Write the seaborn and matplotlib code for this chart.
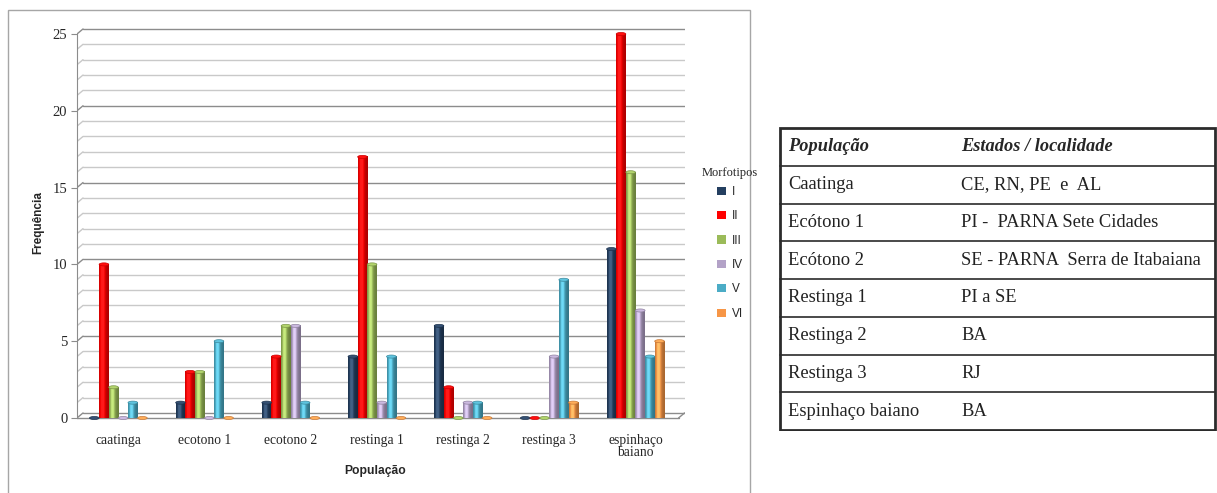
import numpy as np
import pandas as pd
import matplotlib
matplotlib.use("Agg")
import matplotlib.pyplot as plt
from matplotlib.patches import Rectangle, Ellipse, Patch
from matplotlib.colors import to_rgb
import seaborn as sns

# ---- data -------------------------------------------------------------
populacoes = ["caatinga", "ecotono 1", "ecotono 2", "restinga 1",
              "restinga 2", "restinga 3", "espinhaço\nbaiano"]
morfotipos = ["I", "II", "III", "IV", "V", "VI"]
freq_I   = [0, 1, 1, 4, 6, 0, 11]
freq_II  = [10, 3, 4, 17, 2, 0, 25]
freq_III = [2, 3, 6, 10, 0, 0, 16]
freq_IV  = [0, 0, 6, 1, 1, 4, 7]
freq_V   = [1, 5, 1, 4, 1, 9, 4]
freq_VI  = [0, 0, 0, 0, 0, 1, 5]
cores = ["#243F60", "#FF0000", "#9BBB59", "#B3A2C7", "#4BACC6", "#F79646"]
y_ticks = [0, 5, 10, 15, 20, 25]

tabela_cab = ["População", "Estados / localidade"]
tabela_pop = ["Caatinga", "Ecótono 1", "Ecótono 2", "Restinga 1",
              "Restinga 2", "Restinga 3", "Espinhaço baiano"]
tabela_loc = ["CE, RN, PE  e  AL", "PI -  PARNA Sete Cidades",
              "SE - PARNA  Serra de Itabaiana", "PI a SE", "BA", "RJ", "BA"]

serie = [freq_I, freq_II, freq_III, freq_IV, freq_V, freq_VI]
df = pd.DataFrame({
    "População": np.tile(populacoes, len(morfotipos)),
    "Morfotipo": np.repeat(morfotipos, len(populacoes)),
    "Frequência": np.concatenate(serie),
})

# ---- figure -----------------------------------------------------------
W, H = 1217, 493
fig = plt.figure(figsize=(W / 100, H / 100), dpi=100)
sns.set_style("white")
SERIF = "Liberation Serif"
SANS = "Liberation Sans"

# chart frame
fig.patches.append(Rectangle((8 / W, -0.02), (750 - 8) / W, 1 - 10 / H + 0.02,
                             transform=fig.transFigure, fill=False,
                             edgecolor="#A6A6A6", lw=1.0, zorder=0))

ymin, ymax = -0.2, 25.6
px_per_unit = (418 - 34) / 25
ax_bottom_px = 418 + (0 - ymin) * px_per_unit
ax_top_px = 34 - (ymax - 25) * px_per_unit
ax_h_px = ax_bottom_px - ax_top_px
ax = fig.add_axes([77 / W, 1 - ax_bottom_px / H, (685 - 77) / W, ax_h_px / H])

sns.barplot(data=df, x="População", y="Frequência", hue="Morfotipo",
            palette=cores, width=0.67, saturation=1, legend=False,
            ax=ax, zorder=3, linewidth=0)

x0, x1 = -0.48, 6.5           # front floor extent
dx, dy = 0.07, 0.33           # depth offset of the back wall

# back wall grid with slanted side wall
for v in range(0, 26):
    col = "#8C8C8C" if v % 5 == 0 else "#C9C9C9"
    ax.plot([x0 + dx, x1 + dx], [v + dy, v + dy], color=col, lw=1.0, zorder=1)
    ax.plot([x0, x0 + dx], [v, v + dy], color=col, lw=1.0, zorder=1)
# floor front edge
ax.plot([x0, x1], [0, 0], color="#8C8C8C", lw=1.0, zorder=1)
ax.plot([x1, x1 + dx], [0, dy], color="#8C8C8C", lw=1.0, zorder=1)

# cylinder shading and caps on every bar
shade = np.linspace(0, 1, 64)
profile = 0.68 + 0.45 * np.exp(-((shade - 0.35) / 0.30) ** 2)
for cont, c in zip(ax.containers, cores):
    base = np.array(to_rgb(c))
    for bar in cont:
        bx, bw, bh = bar.get_x(), bar.get_width(), bar.get_height()
        bar.set_visible(False)
        img = np.clip(base[None, None, :] * profile[None, :, None]
                      + 0.10 * (profile[None, :, None] > 1.0), 0, 1)
        if bh > 0:
            ax.imshow(img, extent=[bx, bx + bw, 0, bh], aspect="auto",
                      interpolation="bilinear", zorder=3)
        cap_col = np.clip(base * 1.05 + 0.06, 0, 1)
        ax.add_patch(Ellipse((bx + bw / 2, bh), bw, 0.2, facecolor=cap_col,
                             edgecolor=np.clip(base * 0.8, 0, 1), lw=0.5,
                             zorder=4))

ax.set_xlim(x0, x1 + dx + 0.005)
ax.set_ylim(ymin, ymax)
for s in ["top", "right", "bottom"]:
    ax.spines[s].set_visible(False)
ax.spines["left"].set_bounds(0, 25)
ax.spines["left"].set_color("#8C8C8C")
ax.set_yticks(y_ticks)
ax.set_yticklabels([str(t) for t in y_ticks], fontfamily=SERIF, fontsize=10.5)
ax.tick_params(axis="y", length=4, color="#8C8C8C", pad=3, left=True)
ax.tick_params(axis="x", length=0, pad=9)
for lab in ax.get_xticklabels():
    lab.set_fontfamily(SERIF)
    lab.set_fontsize(9.8)
    lab.set_linespacing(0.95)
ax.set_xlabel("População", fontfamily=SANS, fontweight="bold", fontsize=8.7)
ax.set_ylabel("Frequência", fontfamily=SANS, fontweight="bold", fontsize=8.5)
ax.xaxis.set_label_coords((375 - 77) / (685 - 77),
                          (ax_bottom_px - 465) / ax_h_px)
ax.yaxis.set_label_coords((44 - 77) / (685 - 77), 0.5)
ax.grid(False)

# legend
handles = [Patch(facecolor=c, edgecolor="none") for c in cores]
leg = fig.legend(handles, morfotipos, title="Morfotipos", loc="upper left",
                 bbox_to_anchor=(696 / W, 1 - 161 / H), frameon=False,
                 handlelength=0.7, handleheight=0.7, handletextpad=0.5,
                 labelspacing=1.05, borderpad=0,
                 prop={"family": SANS, "size": 8.5})
leg.get_title().set_fontfamily(SERIF)
leg.get_title().set_fontsize(9)
leg._legend_box.align = "center"
leg._legend_box.sep = 5

# ---- location table ---------------------------------------------------
tx0, tx1, ty0, ty1 = 779, 1217, 127, 431
axt = fig.add_axes([tx0 / W, 1 - ty1 / H, (tx1 - tx0) / W, (ty1 - ty0) / H])
axt.set_xlim(tx0, tx1)
axt.set_ylim(ty1, ty0)
axt.axis("off")
n_rows = len(tabela_pop) + 1
row_h = (ty1 - ty0 - 2) / n_rows
col1, col2 = 788, 961
axt.add_patch(Rectangle((780, ty0 + 1), 1215 - 780, ty1 - ty0 - 2,
                        fill=False, edgecolor="#2B2B2B", lw=2.0, zorder=3))
for i in range(1, n_rows):
    yy = ty0 + 1 + i * row_h
    axt.plot([780, 1215], [yy, yy], color="#3A3A3A", lw=1.3, zorder=2)


def cell_y(i):
    return ty0 + 1 + (i + 0.5) * row_h


for x, txt in zip([col1, col2], tabela_cab):
    axt.text(x, cell_y(0), txt, fontfamily=SERIF, fontsize=13.2,
             fontweight="bold", fontstyle="italic", va="center", ha="left")
for i, (p, l) in enumerate(zip(tabela_pop, tabela_loc), start=1):
    axt.text(col1, cell_y(i), p, fontfamily=SERIF, fontsize=13.3,
             va="center", ha="left", color="#222222")
    axt.text(col2, cell_y(i), l, fontfamily=SERIF, fontsize=13.3,
             va="center", ha="left", color="#222222")

fig.savefig("out.png", dpi=100, facecolor="white")
